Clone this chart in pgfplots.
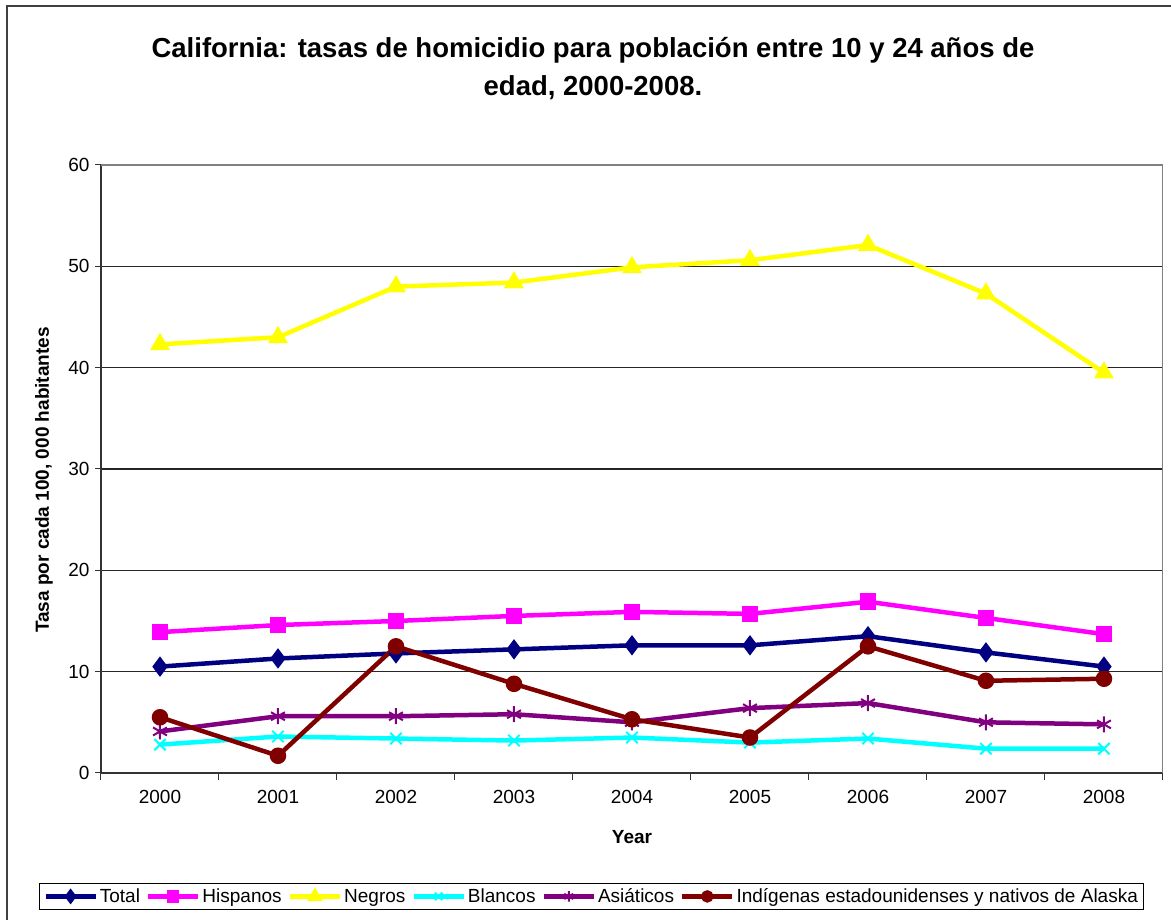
\documentclass[border=0pt]{standalone}
\usepackage{fontspec}
\setmainfont{Liberation Sans}
\usepackage{pgfplots}
\pgfplotsset{compat=1.18}
\definecolor{cTotal}{HTML}{000080}
\definecolor{cHisp}{HTML}{FF00FF}
\definecolor{cNeg}{HTML}{FFFF00}
\definecolor{cBlan}{HTML}{00FFFF}
\definecolor{cAsia}{HTML}{800080}
\definecolor{cInd}{HTML}{800000}
\begin{document}
\begin{tikzpicture}[x=1pt,y=1pt]
\path[use as bounding box] (0,0) rectangle (1171,920);
\draw[line width=2pt, black!75] (7,-20) rectangle (1190,914);
\node[font=\fontsize{27.5}{38}\selectfont\bfseries, align=center] at (593,851) {California: tasas de homicidio para población entre 10 y 24 años de\\edad, 2000-2008.};
\node[font=\fontsize{19}{22}\selectfont\bfseries, rotate=90] at (44,440) {Tasa por cada 100, 000 habitantes};
\node[font=\fontsize{19}{22}\selectfont\bfseries] at (632,83) {Year};
\begin{axis}[at={(101pt,147pt)}, anchor=south west, width=1062pt, height=608pt, scale only axis,
  xmin=-0.5, xmax=8.5, ymin=0, ymax=60,
  xtick={0,...,8},
  xticklabels={2000,2001,2002,2003,2004,2005,2006,2007,2008},
  minor xtick={-0.5,0.5,...,8.5},
  major x tick style={draw=none},
  minor x tick style={black!80, line width=1pt},
  minor tick length=7pt,
  ytick={0,10,...,60},
  y tick style={black!80, line width=1pt},
  major tick length=6pt,
  tick align=outside,
  ymajorgrids, grid style={black!85, line width=1.2pt},
  axis x line*=bottom, axis y line*=left,
  axis line style={black!80, line width=1.5pt},
  ticklabel style={font=\fontsize{19}{22}\selectfont},
  xticklabel style={yshift=-8pt},
  yticklabel style={xshift=-2pt},
  /pgf/number format/assume math mode=true,
  every axis plot/.append style={line width=4.5pt},
  legend style={at={(0.462,-0.203)}, anchor=center, legend columns=6,
    font=\fontsize{19}{22}\selectfont, draw=black, line width=1pt,
    inner xsep=4pt, inner ysep=3pt,
    /tikz/every even column/.append style={column sep=4pt}},
  legend image code/.code={\draw[mark repeat=2, mark phase=2, /tikz/every mark/.append style={scale=0.65}] plot coordinates {(0pt,0pt) (25pt,0pt) (50pt,0pt)};},
]
\draw[gray, line width=1.5pt] (rel axis cs:0,1) -- (rel axis cs:1,1) -- (rel axis cs:1,0);
\addplot[cTotal, mark=diamond*, mark size=6.5pt, mark options={solid}] coordinates {
 (0,10.5) (1,11.3) (2,11.8) (3,12.2) (4,12.6) (5,12.6) (6,13.5) (7,11.9) (8,10.5)};
\addlegendentry{Total}
\addplot[cHisp, mark=square*, mark size=6pt, mark options={solid}] coordinates {
 (0,13.9) (1,14.6) (2,15.0) (3,15.5) (4,15.9) (5,15.7) (6,16.9) (7,15.3) (8,13.7)};
\addlegendentry{Hispanos}
\addplot[cNeg, mark=triangle*, mark size=7pt, mark options={solid}] coordinates {
 (0,42.3) (1,43.0) (2,48.0) (3,48.4) (4,49.9) (5,50.6) (6,52.1) (7,47.3) (8,39.5)};
\addlegendentry{Negros}
\addplot[cBlan, mark=x, mark size=8pt, mark options={solid, line width=2pt}] coordinates {
 (0,2.8) (1,3.6) (2,3.4) (3,3.2) (4,3.5) (5,3.0) (6,3.4) (7,2.4) (8,2.4)};
\addlegendentry{Blancos}
\addplot[cAsia, mark=asterisk, mark size=8pt, mark options={solid, line width=2pt}] coordinates {
 (0,4.1) (1,5.6) (2,5.6) (3,5.8) (4,5.0) (5,6.4) (6,6.9) (7,5.0) (8,4.8)};
\addlegendentry{Asiáticos}
\addplot[cInd, mark=*, mark size=6pt, mark options={solid}] coordinates {
 (0,5.5) (1,1.7) (2,12.5) (3,8.8) (4,5.3) (5,3.5) (6,12.5) (7,9.1) (8,9.3)};
\addlegendentry{Indígenas estadounidenses y nativos de Alaska}
\end{axis}
\end{tikzpicture}
\end{document}
